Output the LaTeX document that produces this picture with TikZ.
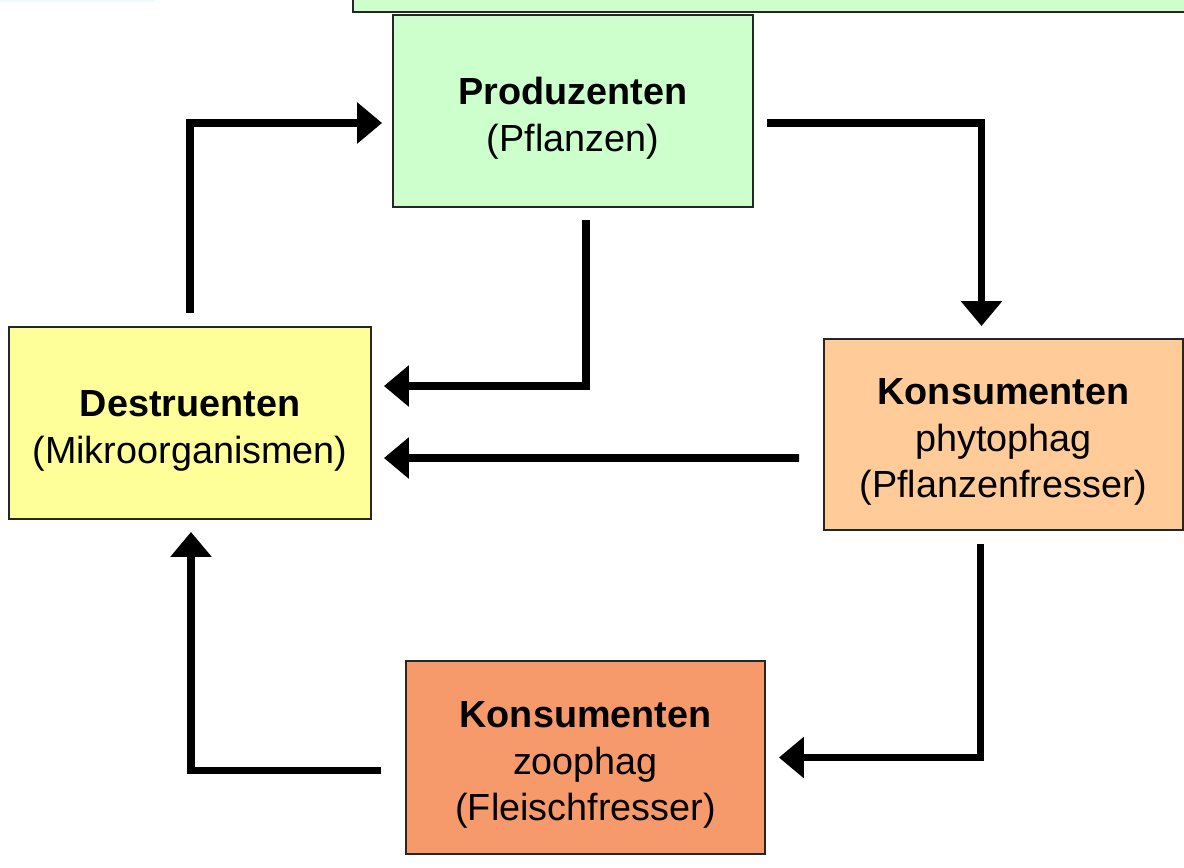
\documentclass[tikz,border=0pt]{standalone}
\usepackage{fontspec}
\setmainfont{Liberation Sans}
\usetikzlibrary{arrows.meta,positioning,calc}
\definecolor{prodgreen}{HTML}{CCFFCC}
\definecolor{destryellow}{HTML}{FFFF99}
\definecolor{phytoorange}{HTML}{FFCC99}
\definecolor{zoosalmon}{HTML}{F79A6B}
\newcommand{\topstrut}{\rule{0pt}{0.83cm}}

\begin{document}
\begin{tikzpicture}[x=0.02cm,y=-0.02cm,
 every node/.style={font=\fontsize{21.5}{26.5}\selectfont},
 box/.style={draw=black!85,line width=1.1pt,minimum width=7.2cm,minimum height=3.84cm,inner sep=0pt,align=center},
 flow/.style={line width=4.4pt,-{Triangle[length=0.5cm,width=0.8cm]}}]
\useasboundingbox (0,0) rectangle (1184,867);
\fill[cyan!6] (0,0) rectangle (155,2);
\draw[fill=prodgreen,draw=black!85,line width=1.1pt] (353,-20) rectangle (1200,12);
% boxes
\node[box,fill=prodgreen] (prod) at (573,111) {\topstrut\textbf{Produzenten}\\(Pflanzen)};
\node[box,fill=destryellow,minimum width=7.24cm] (destr) at (190,423) {\topstrut\textbf{Destruenten}\\(Mikroorganismen)};
\node[box,fill=phytoorange,minimum width=7.18cm,minimum height=3.82cm] (phyto) at (1003.5,434.5) {\topstrut\textbf{Konsumenten}\\phytophag\\(Pflanzenfresser)};
\node[box,fill=zoosalmon,minimum width=7.18cm,minimum height=3.86cm] (zoo) at (585.5,757.5) {\topstrut\textbf{Konsumenten}\\zoophag\\(Fleischfresser)};
% flows
\draw[flow] ($(destr.north)+(0,-13)$) |- ($(prod.west)+(-10,12)$);
\draw[flow] ($(prod.east)+(13,12)$) -| ($(phyto.north)+(-22,-12)$);
\draw[flow] ($(prod.south)+(13,12)$) |- ($(destr.east)+(12,-37)$);
\draw[flow] ($(phyto.west)+(-24,23.5)$) -- ($(destr.east)+(12,35)$);
\draw[flow] ($(phyto.south)+(-23,13)$) |- ($(zoo.east)+(13,0)$);
\draw[flow] ($(zoo.west)+(-24,13)$) -| ($(destr.south)+(1,12)$);
\end{tikzpicture}
\end{document}
